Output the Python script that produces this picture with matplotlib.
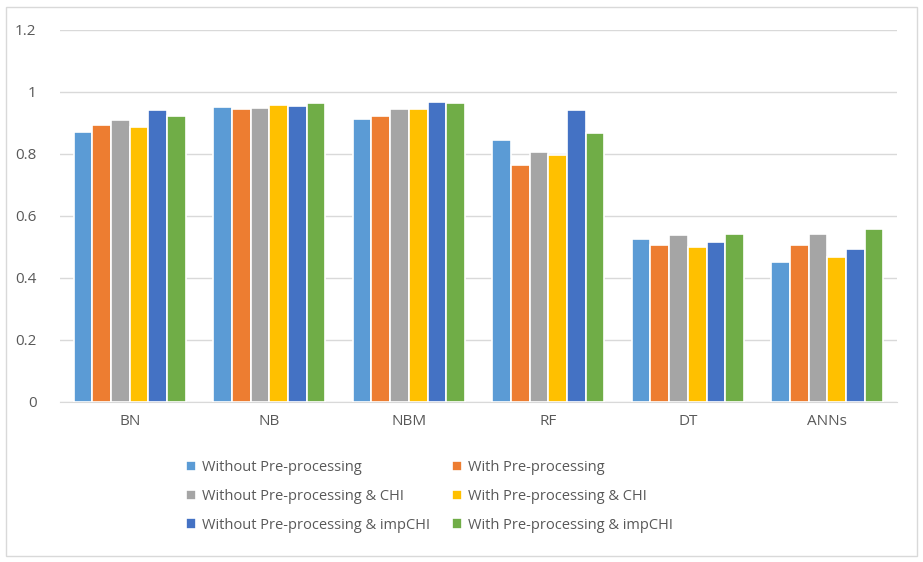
import numpy as np
import matplotlib.pyplot as plt
from matplotlib.patches import Rectangle

## Data
categories = ["BN", "NB", "NBM", "RF", "DT", "ANNs"]
series_names = ["Without Pre-processing", "With Pre-processing",
                "Without Pre-processing & CHI", "With Pre-processing & CHI",
                "Without Pre-processing & impCHI", "With Pre-processing & impCHI"]
wo_pre = [0.870, 0.950, 0.911, 0.843, 0.524, 0.452]
w_pre = [0.892, 0.943, 0.922, 0.764, 0.505, 0.506]
wo_pre_chi = [0.910, 0.948, 0.944, 0.805, 0.537, 0.542]
w_pre_chi = [0.887, 0.956, 0.946, 0.796, 0.501, 0.467]
wo_pre_imp = [0.940, 0.954, 0.967, 0.941, 0.517, 0.493]
w_pre_imp = [0.922, 0.965, 0.965, 0.868, 0.540, 0.559]
series = [wo_pre, w_pre, wo_pre_chi, w_pre_chi, wo_pre_imp, w_pre_imp]
colors = ["#5B9BD5", "#ED7D31", "#A5A5A5", "#FFC000", "#4472C4", "#70AD47"]

plt.rcParams['font.family'] = ['Open Sans', 'DejaVu Sans']
txt = "#595959"

fig = plt.figure(figsize=(9.23, 5.62), dpi=100)
ax = fig.add_axes([0.065, 0.285, 0.907, 0.662])

x = np.arange(len(categories))
w = 0.134
bars = []
for j, (vals, name, c) in enumerate(zip(series, series_names, colors)):
    b = ax.bar(x + (j - 2.5) * w, vals, w, color=c, edgecolor="white",
               linewidth=1.2, label=name, zorder=3)
    bars.append(b)

ax.set_xlim(-0.5, len(categories) - 0.5)
ax.set_ylim(0, 1.2)
ax.set_yticks(np.arange(0, 1.21, 0.2))
ax.set_yticklabels(["0", "0.2", "0.4", "0.6", "0.8", "1", "1.2"])
ax.set_xticks(x)
ax.set_xticklabels(categories)
ax.grid(axis="y", color="#D9D9D9", linewidth=1, zorder=0)
for s in ["top", "right", "left"]:
    ax.spines[s].set_visible(False)
ax.spines["bottom"].set_color("#D9D9D9")
ax.tick_params(axis="both", length=0, colors=txt, labelsize=11)
ax.tick_params(axis="y", pad=17)
ax.tick_params(axis="x", pad=9)

# legend fills row by row like Excel
order = [0, 2, 4, 1, 3, 5]
fig.legend([bars[i] for i in order], [series_names[i] for i in order],
           loc="center", bbox_to_anchor=(0.465, 0.117), ncol=2, frameon=False,
           fontsize=10.5, labelcolor=txt, handlelength=0.7, handleheight=0.7,
           handletextpad=0.4, columnspacing=1.5, labelspacing=0.95)

fig.patches.append(Rectangle((0.006, 0.01), 0.988, 0.978, transform=fig.transFigure,
                             fill=False, edgecolor="#D9D9D9", linewidth=1))

fig.savefig("out.png", dpi=100)
